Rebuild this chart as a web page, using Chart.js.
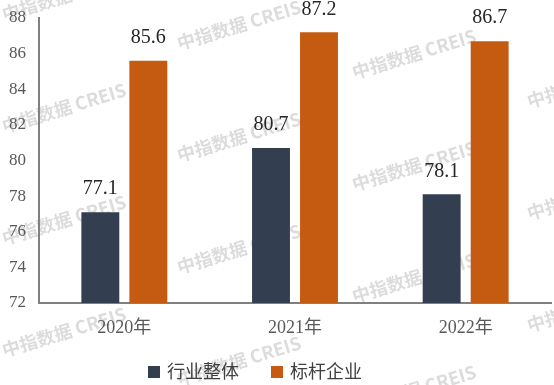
<!DOCTYPE html>
<html><head><meta charset="utf-8">
<script src="https://cdn.jsdelivr.net/npm/chart.js@4"></script>
<style>html,body{margin:0;padding:0;background:#fff}#wrap{width:554px;height:385px}</style>
</head><body><div id="wrap"><canvas id="c" width="554" height="385"></canvas></div>
<script>
const categories = ['2020年', '2021年', '2022年'];
const industry = [77.1, 80.7, 78.1];
const benchmark = [85.6, 87.2, 86.7];
const seriesNames = ['行业整体', '标杆企业'];
const seriesColors = ['#333F50', '#C55A11'];
const yTicks = [72, 74, 76, 78, 80, 82, 84, 86, 88];
const watermarkText = '中指数据 CREIS';

const serif = "'Liberation Serif','DejaVu Serif',serif";
const cjk = "'Liberation Serif','Noto Sans CJK SC',serif";

const PLOT_TOP = 18;

const fixTopPlugin = {
  id: 'fixTop',
  afterLayout(chart) {
    const y = chart.scales.y;
    y.top = PLOT_TOP;
    y.height = y.bottom - PLOT_TOP;
    y.configure();
    const ca = chart.chartArea;
    ca.top = PLOT_TOP;
    ca.height = ca.bottom - PLOT_TOP;
  }
};

const watermarkPlugin = {
  id: 'watermark',
  beforeDraw(chart) {
    const ctx = chart.ctx;
    ctx.save();
    ctx.font = "bold 18px 'Noto Sans CJK SC','Noto Sans',sans-serif";
    ctx.fillStyle = '#dcdcdc';
    ctx.textAlign = 'center';
    ctx.textBaseline = 'middle';
    for (let i = 0; i < 4; i++) {
      for (let j = -1; j < 4; j++) {
        const cx = 64 + 175 * i;
        const cy = -4 + 29 * i + 112 * j;
        ctx.save();
        ctx.translate(cx, cy);
        ctx.rotate(-17 * Math.PI / 180);
        ctx.fillText(watermarkText, 0, 0);
        ctx.restore();
      }
    }
    ctx.restore();
  }
};

const labelPlugin = {
  id: 'labels',
  afterDatasetsDraw(chart) {
    const ctx = chart.ctx;
    ctx.save();
    ctx.font = "20px " + serif;
    ctx.fillStyle = '#262626';
    ctx.textAlign = 'center';
    ctx.textBaseline = 'middle';
    chart.data.datasets.forEach((ds, i) => {
      chart.getDatasetMeta(i).data.forEach((bar, j) => {
        ctx.fillText(ds.data[j].toFixed(1), bar.x, bar.y - 23);
      });
    });
    ctx.restore();
  }
};

const legendPlugin = {
  id: 'customLegend',
  afterDraw(chart) {
    const ctx = chart.ctx;
    ctx.save();
    ctx.font = "18px " + cjk;
    ctx.textBaseline = 'middle';
    ctx.textAlign = 'left';
    const y = 372;
    const xs = [148, 271];
    chart.data.datasets.forEach((ds, i) => {
      ctx.fillStyle = ds.backgroundColor;
      ctx.fillRect(xs[i], y - 6, 12, 12);
      ctx.fillStyle = '#404040';
      ctx.fillText(ds.label, xs[i] + 19, y + 1);
    });
    ctx.restore();
  }
};

new Chart(document.getElementById('c'), {
  type: 'bar',
  data: {
    labels: categories,
    datasets: [
      { label: seriesNames[0], data: industry, backgroundColor: seriesColors[0] },
      { label: seriesNames[1], data: benchmark, backgroundColor: seriesColors[1] }
    ]
  },
  options: {
    responsive: false,
    animation: false,
    layout: { padding: { top: 14, right: 3, left: 0, bottom: 32 } },
    categoryPercentage: 0.5625,
    barPercentage: 0.79,
    plugins: {
      legend: { display: false },
      tooltip: { enabled: false }
    },
    scales: {
      x: {
        grid: { display: false, drawTicks: false },
        border: { color: '#808080', width: 2 },
        ticks: { color: '#595959', font: { size: 18, family: cjk }, padding: 14 },
        afterFit(s) { s.height = 50; }
      },
      y: {
        min: 72, max: 88,
        grid: { display: false, drawTicks: false },
        border: { color: '#808080', width: 2 },
        afterBuildTicks(s) { s.ticks = yTicks.map(v => ({ value: v })); },
        ticks: { color: '#595959', font: { size: 17, family: serif }, padding: 13 },
        afterFit(s) { s.width = 39; }
      }
    }
  },
  plugins: [fixTopPlugin, watermarkPlugin, labelPlugin, legendPlugin]
});
</script></body></html>
